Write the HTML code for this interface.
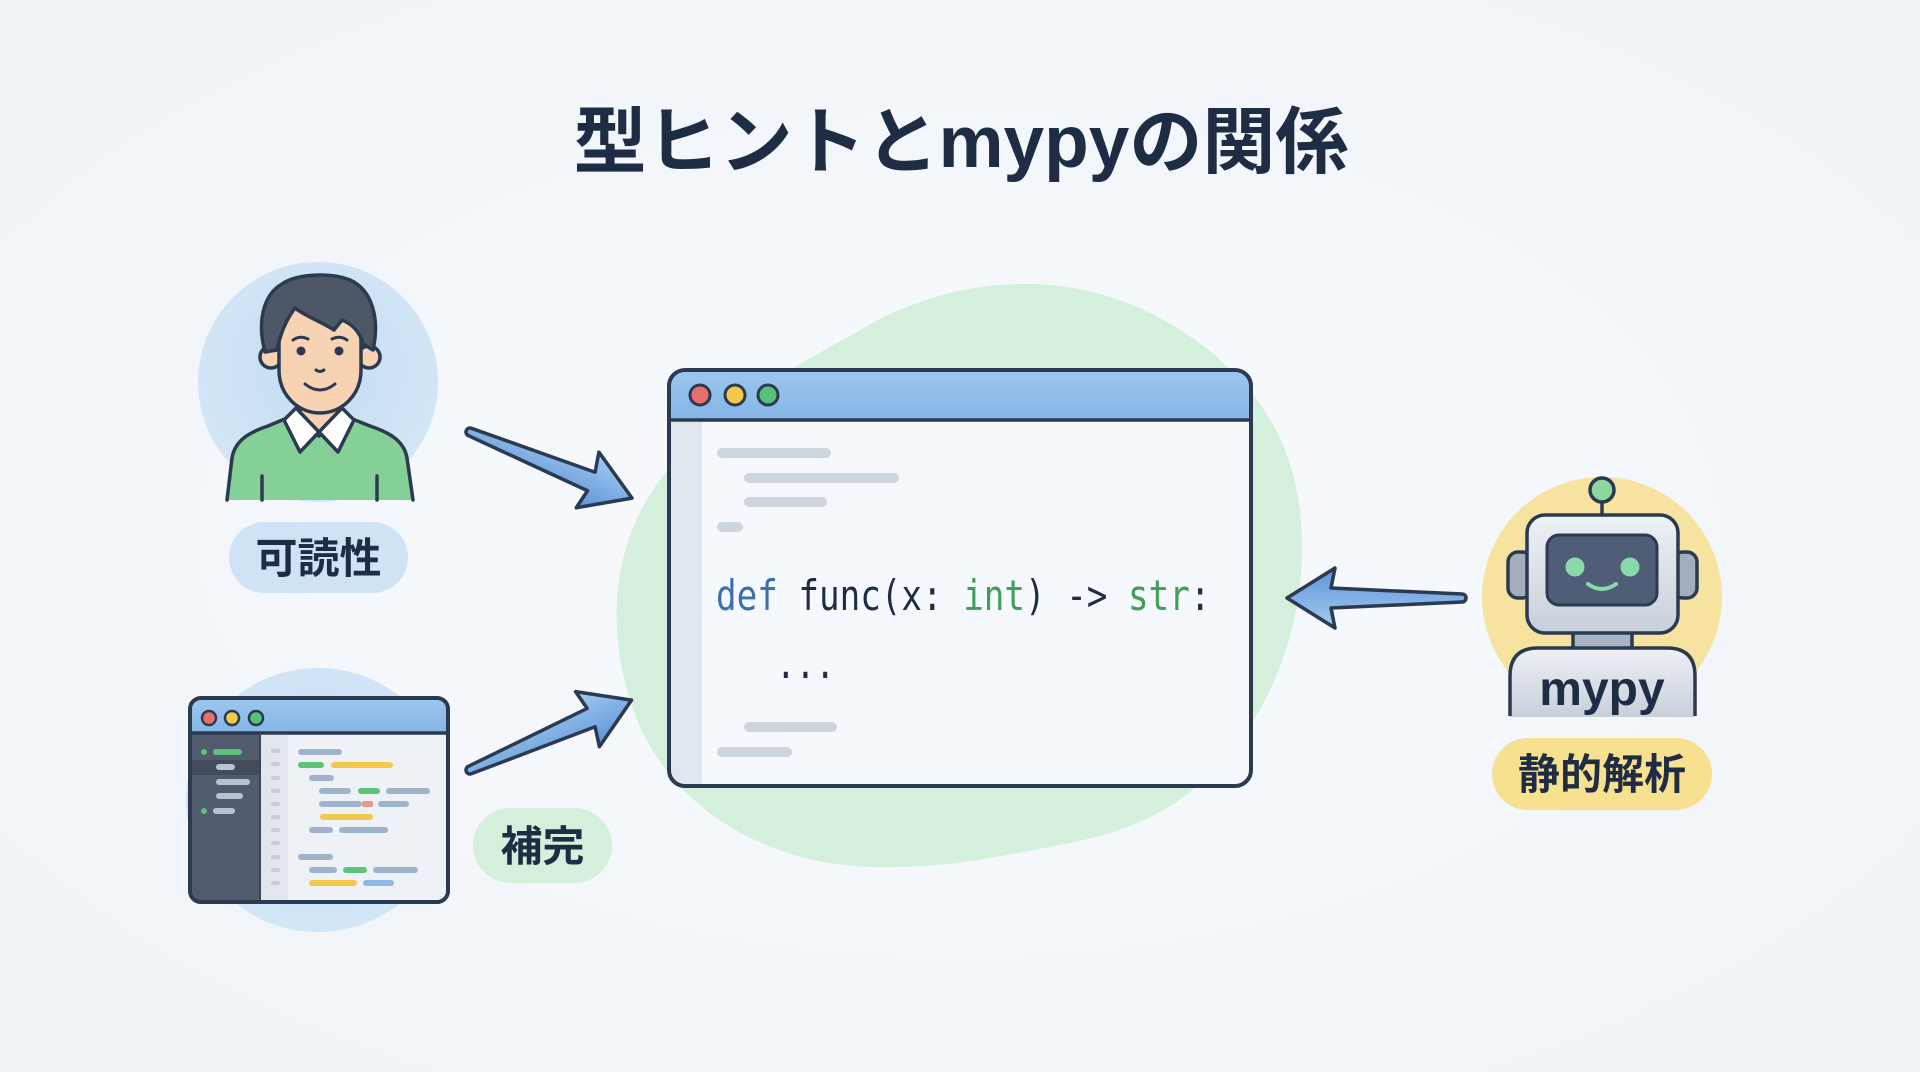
<!DOCTYPE html>
<html>
<head>
<meta charset="utf-8">
<style>
html,body{margin:0;padding:0;width:1920px;height:1072px;overflow:hidden;background:#f3f7fb;}
svg{display:block;}
.jp{font-family:"Liberation Sans","Noto Sans CJK JP",sans-serif;font-weight:700;}
.code{font-family:"DejaVu Sans Mono","Liberation Mono",monospace;font-size:42px;}
</style>
</head>
<body>
<svg width="1920" height="1072" viewBox="0 0 1920 1072" xmlns="http://www.w3.org/2000/svg">
<defs>
  <radialGradient id="bg" cx="50%" cy="50%" r="75%">
    <stop offset="0" stop-color="#f8fafd"/>
    <stop offset="1" stop-color="#eef3f8"/>
  </radialGradient>
  <linearGradient id="arr" x1="0" y1="0" x2="0" y2="1">
    <stop offset="0" stop-color="#a3cbf2"/>
    <stop offset="1" stop-color="#5d94d6"/>
  </linearGradient>
  <linearGradient id="tbar" x1="0" y1="0" x2="0" y2="1">
    <stop offset="0" stop-color="#9cc7ef"/>
    <stop offset="1" stop-color="#86b5e5"/>
  </linearGradient>
  <linearGradient id="metal" x1="0" y1="0" x2="0" y2="1">
    <stop offset="0" stop-color="#eef1f6"/>
    <stop offset="1" stop-color="#c8cfda"/>
  </linearGradient>
  <radialGradient id="bluec" cx="50%" cy="45%" r="55%">
    <stop offset="0" stop-color="#c3dcf2"/>
    <stop offset="1" stop-color="#d3e6f6"/>
  </radialGradient>
</defs>

<rect x="0" y="0" width="1920" height="1072" fill="url(#bg)"/>

<!-- Title -->
<text class="jp" x="961" y="167" font-size="73" text-anchor="middle" fill="#1f2d44">型ヒントとmypyの関係</text>

<!-- Green blob -->
<path d="M 1029 284 C 1140 284, 1250 360, 1285 450 C 1320 540, 1300 660, 1240 740 C 1190 805, 1140 830, 1060 845 C 980 860, 950 867, 880 867 C 760 867, 660 800, 630 700 C 605 620, 615 540, 660 480 C 710 410, 790 370, 860 330 C 920 296, 970 284, 1029 284 Z" fill="#d5efdd"/>

<!-- Person -->
<circle cx="318" cy="382" r="120" fill="url(#bluec)"/>
<g stroke="#2b3a50" stroke-width="3.5" stroke-linejoin="round" stroke-linecap="round">
  <path d="M 227 500 L 232 458 C 235 440, 250 432, 268 426 L 287 418 L 350 418 L 370 426 C 388 432, 404 440, 407 458 L 413 500 Z" fill="#84d097" stroke="none"/>
  <path d="M 227 500 L 232 458 C 235 440, 250 432, 268 426 L 287 418 L 350 418 L 370 426 C 388 432, 404 440, 407 458 L 413 500" fill="none"/>
  <path d="M 262 476 L 262 500 M 377 476 L 377 500" fill="none"/>
  <path d="M 300 392 L 300 420 L 319 436 L 338 420 L 338 392 Z" fill="#f7d2b3"/>
  <path d="M 296 408 L 284 420 L 300 452 L 319 432 Z" fill="#ffffff"/>
  <path d="M 342 408 L 354 420 L 338 452 L 319 432 Z" fill="#ffffff"/>
  <circle cx="271" cy="357" r="11" fill="#f7d2b3"/>
  <circle cx="369" cy="357" r="11" fill="#f7d2b3"/>
  <path d="M 279 320 C 279 300, 295 288, 320 288 C 345 288, 361 300, 361 320 L 361 370 C 361 395, 342 413, 320 413 C 298 413, 279 395, 279 370 Z" fill="#f7d2b3"/>
  <path d="M 265 352 C 257 322, 263 295, 282 284 C 296 274, 330 272, 350 280 C 372 290, 380 318, 373 350 L 363 344 C 360 332, 352 324, 342 320 L 334 330 C 322 322, 305 316, 295 308 C 286 320, 280 335, 277 350 Z" fill="#4d5768"/>
  <path d="M 293 340 Q 300 335 308 339 M 332 339 Q 340 335 347 340" fill="none" stroke-width="3"/>
  <path d="M 316 370 Q 320 373 324 370" fill="none" stroke-width="3"/>
  <path d="M 305 384 Q 320 396 335 384" fill="none" stroke-width="3"/>
</g>
<circle cx="301" cy="351" r="4.5" fill="#2b3a50"/>
<circle cx="339" cy="351" r="4.5" fill="#2b3a50"/>

<!-- Pill 可読性 -->
<rect x="229" y="522" width="179" height="71" rx="35.5" fill="#cfe3f5"/>
<text class="jp" x="318.5" y="573" font-size="42" text-anchor="middle" fill="#1f2d44">可読性</text>

<!-- Editor icon -->
<circle cx="318" cy="800" r="132" fill="url(#bluec)"/>
<g>
  <rect x="190" y="698" width="258" height="204" rx="11" fill="#eef2f7"/>
  <path d="M 190 733 L 190 709 Q 190 698 201 698 L 437 698 Q 448 698 448 709 L 448 733 Z" fill="url(#tbar)"/>
  <path d="M 190 733 L 260 733 L 260 902 L 201 902 Q 190 902 190 891 Z" fill="#505b6d"/>
  <rect x="192" y="760" width="68" height="15" fill="#414b5c"/>
  <rect x="260" y="735" width="28" height="165" fill="#e1e6ee"/>
  <g fill="#c5ccd6">
    <rect x="271" y="749" width="9" height="4" rx="2"/>
    <rect x="271" y="762" width="9" height="4" rx="2"/>
    <rect x="271" y="776" width="9" height="4" rx="2"/>
    <rect x="271" y="789" width="9" height="4" rx="2"/>
    <rect x="271" y="802" width="9" height="4" rx="2"/>
    <rect x="271" y="815" width="9" height="4" rx="2"/>
    <rect x="271" y="828" width="9" height="4" rx="2"/>
    <rect x="271" y="841" width="9" height="4" rx="2"/>
    <rect x="271" y="855" width="9" height="4" rx="2"/>
    <rect x="271" y="868" width="9" height="4" rx="2"/>
    <rect x="271" y="881" width="9" height="4" rx="2"/>
  </g>
  <circle cx="204" cy="752" r="3" fill="#5cc37b"/>
  <rect x="213" y="749" width="29" height="6" rx="3" fill="#5cc37b"/>
  <rect x="216" y="764" width="19" height="6" rx="3" fill="#b9c2cf"/>
  <rect x="216" y="779" width="34" height="6" rx="3" fill="#b9c2cf"/>
  <rect x="216" y="793" width="27" height="6" rx="3" fill="#b9c2cf"/>
  <circle cx="204" cy="811" r="3" fill="#5cc37b"/>
  <rect x="213" y="808" width="22" height="6" rx="3" fill="#b9c2cf"/>
  <g>
    <rect x="298" y="749" width="44" height="6" rx="3" fill="#9fb3cb"/>
    <rect x="298" y="762" width="26" height="6" rx="3" fill="#5cc37b"/>
    <rect x="331" y="762" width="62" height="6" rx="3" fill="#f2c94c"/>
    <rect x="309" y="775" width="25" height="6" rx="3" fill="#9fb3cb"/>
    <rect x="319" y="788" width="32" height="6" rx="3" fill="#9fb3cb"/>
    <rect x="358" y="788" width="22" height="6" rx="3" fill="#5cc37b"/>
    <rect x="386" y="788" width="44" height="6" rx="3" fill="#9fb3cb"/>
    <rect x="319" y="801" width="43" height="6" rx="3" fill="#9fb3cb"/>
    <rect x="362" y="801" width="11" height="6" rx="2" fill="#e59a8a"/>
    <rect x="378" y="801" width="31" height="6" rx="3" fill="#9fb3cb"/>
    <rect x="320" y="814" width="53" height="6" rx="3" fill="#f2c94c"/>
    <rect x="309" y="827" width="24" height="6" rx="3" fill="#9fb3cb"/>
    <rect x="339" y="827" width="49" height="6" rx="3" fill="#9fb3cb"/>
    <rect x="298" y="854" width="35" height="6" rx="3" fill="#9fb3cb"/>
    <rect x="309" y="867" width="28" height="6" rx="3" fill="#9fb3cb"/>
    <rect x="343" y="867" width="24" height="6" rx="3" fill="#5cc37b"/>
    <rect x="373" y="867" width="45" height="6" rx="3" fill="#9fb3cb"/>
    <rect x="309" y="880" width="48" height="6" rx="3" fill="#f2c94c"/>
    <rect x="363" y="880" width="31" height="6" rx="3" fill="#8fb8e6"/>
  </g>
  <line x1="190" y1="733" x2="448" y2="733" stroke="#2b3a50" stroke-width="3.5"/>
  <line x1="260" y1="733" x2="260" y2="902" stroke="#3a4556" stroke-width="2"/>
  <rect x="190" y="698" width="258" height="204" rx="11" fill="none" stroke="#2b3a50" stroke-width="4"/>
  <circle cx="209" cy="718" r="7" fill="#e8706a" stroke="#2b3a50" stroke-width="2.5"/>
  <circle cx="232" cy="718" r="7" fill="#f4c84a" stroke="#2b3a50" stroke-width="2.5"/>
  <circle cx="256" cy="718" r="7" fill="#58c27a" stroke="#2b3a50" stroke-width="2.5"/>
</g>

<!-- Pill 補完 -->
<rect x="473" y="808" width="139" height="75" rx="37.5" fill="#d5efdd"/>
<text class="jp" x="542.5" y="861" font-size="42" text-anchor="middle" fill="#1f2d44">補完</text>

<!-- Main window -->
<g>
  <rect x="669" y="370" width="582" height="416" rx="16" fill="#f5f8fc"/>
  <path d="M 669 420 L 669 386 Q 669 370 685 370 L 1235 370 Q 1251 370 1251 386 L 1251 420 Z" fill="url(#tbar)"/>
  <path d="M 671 422 L 702 422 L 702 784 L 685 784 Q 671 784 671 770 Z" fill="#e0e6ee"/>
  <g fill="#cdd5df">
    <rect x="717" y="448" width="114" height="10" rx="5"/>
    <rect x="744" y="473" width="155" height="10" rx="5"/>
    <rect x="744" y="497" width="83" height="10" rx="5"/>
    <rect x="717" y="522" width="26" height="10" rx="5"/>
    <rect x="744" y="722" width="93" height="10" rx="5"/>
    <rect x="717" y="747" width="75" height="10" rx="5"/>
  </g>
  <text class="code" transform="translate(716,610) scale(0.815,1)" fill="#1f2d44"><tspan fill="#3d6fb0">def</tspan> func(x: <tspan fill="#3f9e5a">int</tspan>) -&gt; <tspan fill="#3f9e5a">str</tspan>:</text>
  <text class="code" transform="translate(776,678) scale(0.778,1)" fill="#1f2d44">...</text>
  <line x1="669" y1="420" x2="1251" y2="420" stroke="#2b3a50" stroke-width="3.5"/>
  <rect x="669" y="370" width="582" height="416" rx="16" fill="none" stroke="#2b3a50" stroke-width="4"/>
  <circle cx="700" cy="395" r="10" fill="#e8706a" stroke="#2b3a50" stroke-width="3"/>
  <circle cx="735" cy="395" r="10" fill="#f4c84a" stroke="#2b3a50" stroke-width="3"/>
  <circle cx="768" cy="395" r="10" fill="#58c27a" stroke="#2b3a50" stroke-width="3"/>
</g>

<!-- Arrows -->
<g fill="url(#arr)" stroke="#2b3a50" stroke-width="3.5" stroke-linejoin="round">
  <path transform="translate(470,432) rotate(22.2)" d="M0,-4 L131,-10 L127,-30 L175,0 L127,30 L131,10 L0,4 A4,4 0 0,1 0,-4 Z"/>
  <path transform="translate(470,770) rotate(-23.4)" d="M0,-4 L132,-10 L128,-30 L176,0 L128,30 L132,10 L0,4 A4,4 0 0,1 0,-4 Z"/>
  <path transform="translate(1462,598) rotate(180)" d="M0,-4 L131,-10 L127,-30 L175,0 L127,30 L131,10 L0,4 A4,4 0 0,1 0,-4 Z"/>
</g>

<!-- Robot -->
<circle cx="1602" cy="597" r="120" fill="#f6e3a0"/>
<g stroke="#2b3a50" stroke-width="3.5" stroke-linejoin="round">
  <line x1="1602" y1="500" x2="1602" y2="516"/>
  <circle cx="1602" cy="490" r="12" fill="#8dd6a0"/>
  <rect x="1508" y="552" width="24" height="46" rx="10" fill="#a3adbb"/>
  <rect x="1673" y="552" width="24" height="46" rx="10" fill="#a3adbb"/>
  <rect x="1573" y="630" width="59" height="19" fill="#a9b3c2"/>
  <path d="M 1510 717 L 1510 676 Q 1510 648 1538 648 L 1667 648 Q 1695 648 1695 676 L 1695 717 Z" fill="url(#metal)" stroke="none"/>
  <path d="M 1510 716 L 1510 676 Q 1510 648 1538 648 L 1667 648 Q 1695 648 1695 676 L 1695 716" fill="none"/>
  <rect x="1527" y="515" width="151" height="118" rx="18" fill="url(#metal)"/>
  <rect x="1547" y="535" width="110" height="70" rx="12" fill="#4f5d76" stroke-width="3"/>
</g>
<circle cx="1575" cy="567" r="9.5" fill="#8ad9aa"/>
<circle cx="1630" cy="567" r="9.5" fill="#8ad9aa"/>
<path d="M 1588 584 Q 1602 594 1616 584" fill="none" stroke="#8ad9aa" stroke-width="4" stroke-linecap="round"/>
<text class="jp" x="1602" y="705" font-size="48" text-anchor="middle" fill="#1f2d44">mypy</text>

<!-- Pill 静的解析 -->
<rect x="1492" y="738" width="220" height="72" rx="36" fill="#f7e08f"/>
<text class="jp" x="1602" y="789" font-size="42" text-anchor="middle" fill="#1f2d44">静的解析</text>
</svg>
</body>
</html>
